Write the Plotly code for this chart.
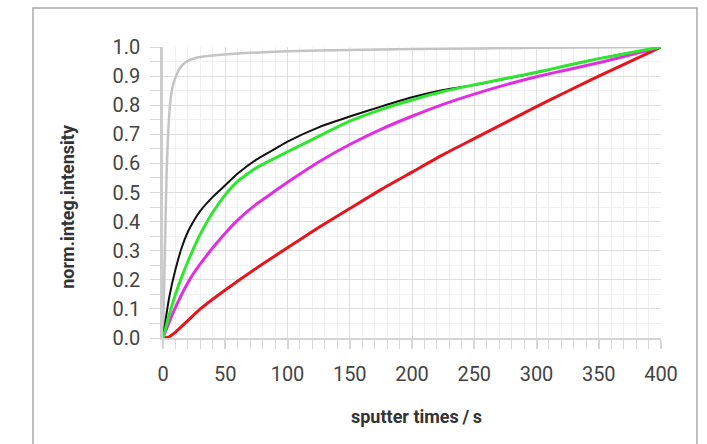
import plotly.graph_objects as go

# sputter time (s) and normalised integrated intensity for each curve
t_gray = [0, 1, 2, 3, 4, 5.6, 7.5, 10.4, 14, 19, 27, 38, 55, 70, 100, 150, 200, 300, 400]
v_gray = [0, 0.2, 0.4, 0.58, 0.69, 0.8, 0.86, 0.9, 0.93, 0.95, 0.963, 0.97, 0.976, 0.98, 0.985, 0.99, 0.993, 0.997, 1.0]

t_black = [0, 2, 5, 10, 15, 20, 25, 30, 40, 50, 60, 75, 90, 100, 125, 150, 175, 200, 225, 250, 275, 300, 325, 350, 375, 400]
v_black = [0, 0.06, 0.14, 0.235, 0.31, 0.365, 0.405, 0.437, 0.485, 0.525, 0.565, 0.613, 0.65, 0.675, 0.724, 0.761, 0.795, 0.827, 0.852, 0.869, 0.891, 0.912, 0.936, 0.96, 0.98, 1.0]

t_green = [0, 5, 10, 15, 20, 25, 30, 40, 50, 60, 75, 100, 125, 150, 175, 200, 225, 250, 275, 300, 325, 350, 375, 400]
v_green = [0, 0.08, 0.15, 0.21, 0.263, 0.312, 0.357, 0.432, 0.492, 0.538, 0.585, 0.64, 0.693, 0.745, 0.785, 0.818, 0.847, 0.87, 0.892, 0.913, 0.937, 0.96, 0.98, 1.0]

t_magenta = [0, 5, 10, 15, 20, 25, 30, 40, 50, 60, 75, 90, 100, 125, 150, 175, 200, 225, 250, 275, 300, 325, 350, 375, 400]
v_magenta = [0, 0.055, 0.105, 0.15, 0.19, 0.225, 0.255, 0.31, 0.36, 0.405, 0.46, 0.505, 0.535, 0.605, 0.665, 0.717, 0.762, 0.803, 0.838, 0.87, 0.898, 0.922, 0.946, 0.972, 1.0]

t_red = [0, 5, 10, 20, 30, 50, 75, 100, 125, 150, 175, 200, 225, 250, 275, 300, 325, 350, 375, 400]
v_red = [0, 0.004, 0.02, 0.06, 0.1, 0.165, 0.24, 0.31, 0.38, 0.445, 0.51, 0.57, 0.63, 0.685, 0.74, 0.795, 0.848, 0.9, 0.95, 1.0]

x_ticks = [0, 50, 100, 150, 200, 250, 300, 350, 400]
y_ticks = [0.0, 0.1, 0.2, 0.3, 0.4, 0.5, 0.6, 0.7, 0.8, 0.9, 1.0]

x_title = "sputter times\u2009/\u2009s"
y_title = "norm.integ.intensity"

fig = go.Figure()
series = [
    (t_gray, v_gray, "#c4c4c4", 2.5),
    (t_red, v_red, "#e8141b", 3),
    (t_magenta, v_magenta, "#e22ee2", 3),
    (t_black, v_black, "#111111", 2),
    (t_green, v_green, "#2ee62e", 3),
]
for tx, vy, col, w in series:
    fig.add_trace(go.Scatter(x=tx, y=vy, mode="lines",
                             line=dict(color=col, width=w, shape="spline", smoothing=0.5),
                             showlegend=False, hoverinfo="skip"))

tickfont = dict(family="Roboto, sans-serif", size=20, color="#444444")
fig.update_xaxes(range=[0, 400], tickvals=x_ticks, ticktext=[str(v) for v in x_ticks],
                 showgrid=True, gridcolor="#dedede", gridwidth=1,
                 zeroline=False, showline=True, linecolor="#d4d4d4", linewidth=1.5,
                 ticks="outside", ticklen=9, tickcolor="#d8d8d8", tickwidth=1.5,
                 minor=dict(dtick=10, tick0=0, showgrid=True, gridcolor="#f1f1f1",
                            ticks="outside", ticklen=9, tickcolor="#d8d8d8", tickwidth=1.2),
                 tickfont=tickfont, ticklabelstandoff=8)
fig.update_yaxes(range=[0, 1.0], tickvals=y_ticks, ticktext=[f"{v:.1f}" for v in y_ticks],
                 showgrid=True, gridcolor="#dedede", gridwidth=1.3,
                 zeroline=False, showline=True, linecolor="#cccccc", linewidth=2.5,
                 ticks="outside", ticklen=10, tickcolor="#d8d8d8", tickwidth=1.2,
                 minor=dict(dtick=0.05, tick0=0, showgrid=True, gridcolor="#f1f1f1",
                            ticks="outside", ticklen=10, tickcolor="#d8d8d8", tickwidth=1.2),
                 tickfont=tickfont, ticklabelstandoff=6)

fig.add_shape(type="rect", xref="paper", yref="paper",
              x0=-0.261, x1=1.0723, y0=-0.40, y1=1.134,
              line=dict(color="#a8a8a8", width=1.5), layer="below")

titlefont = dict(family="Roboto, sans-serif", size=18, color="#333333")
fig.add_annotation(text="<b>" + x_title + "</b>", xref="paper", yref="paper",
                   x=0.51, y=-0.271, showarrow=False, font=titlefont,
                   xanchor="center", yanchor="middle")
fig.add_annotation(text="<b>" + y_title + "</b>", xref="paper", yref="paper",
                   x=-0.191, y=0.454, showarrow=False, font=titlefont, textangle=-90,
                   xanchor="center", yanchor="middle")

fig.update_layout(width=707, height=444,
                  margin=dict(l=163, r=46, t=47, b=106, pad=0),
                  paper_bgcolor="white", plot_bgcolor="white")
fig.write_html("out.html")
